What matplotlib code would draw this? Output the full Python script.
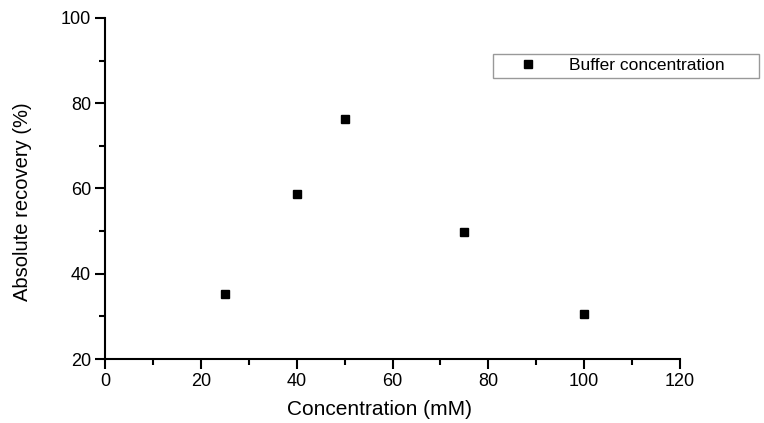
import matplotlib
matplotlib.use("Agg")
import matplotlib.pyplot as plt
from matplotlib.ticker import MultipleLocator

plt.rcParams['font.family'] = ['Liberation Sans', 'DejaVu Sans']

concentration = [25, 40, 50, 75, 100]
recovery = [35.3, 58.6, 76.4, 49.7, 30.6]
series_label = "Buffer concentration"

fig = plt.figure(figsize=(7.64, 4.23), dpi=100)
ax = fig.add_axes([105/764, 1 - 359/423, (680 - 105)/764, (359 - 18)/423])

ax.plot(concentration, recovery, linestyle='none', marker='s', markersize=5.8,
        color='black', label=series_label)

ax.set_xlim(0, 120)
ax.set_ylim(20, 100)
ax.xaxis.set_major_locator(MultipleLocator(20))
ax.xaxis.set_minor_locator(MultipleLocator(10))
ax.yaxis.set_major_locator(MultipleLocator(20))
ax.yaxis.set_minor_locator(MultipleLocator(10))

for s in ['top', 'right']:
    ax.spines[s].set_visible(False)
for s in ['left', 'bottom']:
    ax.spines[s].set_linewidth(1.5)

ax.tick_params(which='major', direction='out', length=7, width=1.5, labelsize=13, pad=3)
ax.tick_params(which='minor', direction='out', length=4, width=1.5)

ax.set_xlabel("Concentration (mM)", fontsize=15)
ax.set_ylabel("Absolute recovery (%)", fontsize=14.5)
ax.xaxis.set_label_coords(0.478, -0.12)
ax.yaxis.set_label_coords(-0.127, 0.46)

leg = ax.legend(loc='upper left', bbox_to_anchor=(493/764, 1 - 78/423, (759 - 493)/764, 24/423),
                bbox_transform=fig.transFigure, mode='expand', borderaxespad=0,
                fancybox=False, frameon=True, fontsize=12.5, handlelength=3.5,
                handletextpad=0.6, borderpad=0.25, markerscale=0.95)
leg.get_frame().set_edgecolor('#808080')
leg.get_frame().set_linewidth(1.0)

fig.savefig("out.png", dpi=100)
